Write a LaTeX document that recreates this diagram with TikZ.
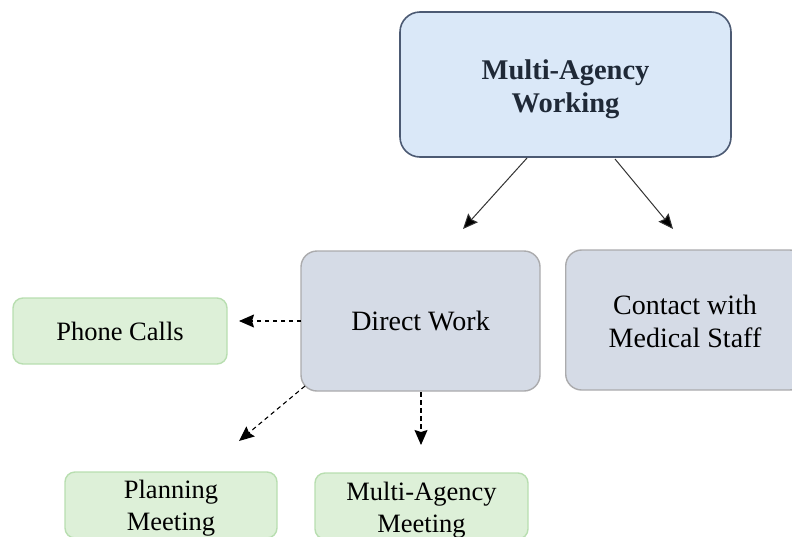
\documentclass[tikz,border=0pt]{standalone}
\usepackage{fontspec}
\setmainfont{Liberation Serif}
\usetikzlibrary{arrows.meta}
\definecolor{topfill}{HTML}{DAE8F8}
\definecolor{topdraw}{HTML}{4C5A73}
\definecolor{toptext}{HTML}{1F2937}
\definecolor{greyfill}{HTML}{D5DBE6}
\definecolor{greydraw}{HTML}{ABABAD}
\definecolor{greenfill}{HTML}{DDF0D8}
\definecolor{greendraw}{HTML}{B8DEB0}
\tikzset{
  topbox/.style={draw=topdraw, fill=topfill, line width=1.6pt, rounded corners=20pt},
  toptextstyle/.style={align=center, text=toptext, font=\fontsize{28.5}{33}\selectfont\bfseries},
  greybox/.style={draw=greydraw, fill=greyfill, line width=1.4pt, rounded corners=16pt, align=center,
    font=\fontsize{28}{33}\selectfont},
  greytext/.style={align=center, font=\fontsize{28}{33}\selectfont},
  greenbox/.style={draw=greendraw, fill=greenfill, line width=1.4pt, rounded corners=10pt, align=center,
    font=\fontsize{26.5}{31.5}\selectfont},
  greentext/.style={align=center, font=\fontsize{26.5}{31.5}\selectfont},
  tip/.style={-{Stealth[length=15pt,width=13pt,inset=2pt,fill=black]}},
  solidarrow/.style={draw=black!80, line width=1pt, tip},
  dasharrow/.style={draw=black, line width=1.1pt, dash pattern=on 4.5pt off 3.5pt, tip}
}
\begin{document}
\begin{tikzpicture}[x=1pt,y=-1pt]
\useasboundingbox (0,0) rectangle (792,536);
\clip (0,0) rectangle (792,536);
\node[topbox, minimum width=331pt, minimum height=145pt] (top) at (565.5,84.5) {};
\node[toptextstyle] (toptext) at (565.5,89) {Multi-Agency\\Working};
\node[greybox, minimum width=239pt, minimum height=140pt] (direct) at (420.5,321) {Direct Work};
\node[greybox, minimum width=240pt, minimum height=140pt, anchor=west] (contact) at (565,320) {};
\node[greytext] (contacttext) at (685,321) {Contact with\\Medical Staff};
\node[greenbox, minimum width=214pt, minimum height=66pt] (phone) at (120,331) {Phone Calls};
\node[greenbox, minimum width=212pt, minimum height=66pt] (planning) at (171,505) {};
\node[greentext] (planningtext) at (171,508) {Planning\\Meeting};
\node[greenbox, minimum width=213pt, minimum height=66pt] (mameeting) at (421.5,506) {};
\node[greentext] (mameetingtext) at (421.5,510) {Multi-Agency\\Meeting};
\coordinate (a1s) at (527,158);
\coordinate (a1e) at (463,229);
\coordinate (a2s) at (615,159);
\coordinate (a2e) at (673,229);
\coordinate (d1s) at (301,321);
\coordinate (d1e) at (239,321);
\coordinate (d2s) at (305,386);
\coordinate (d2e) at (239,441);
\coordinate (d3s) at (421,392);
\coordinate (d3e) at (421,445);
\draw[solidarrow] (a1s) -- (a1e);
\draw[solidarrow] (a2s) -- (a2e);
\draw[dasharrow] (d1s) -- (d1e);
\draw[dasharrow] (d2s) -- (d2e);
\draw[dasharrow] (d3s) -- (d3e);
\end{tikzpicture}
\end{document}
